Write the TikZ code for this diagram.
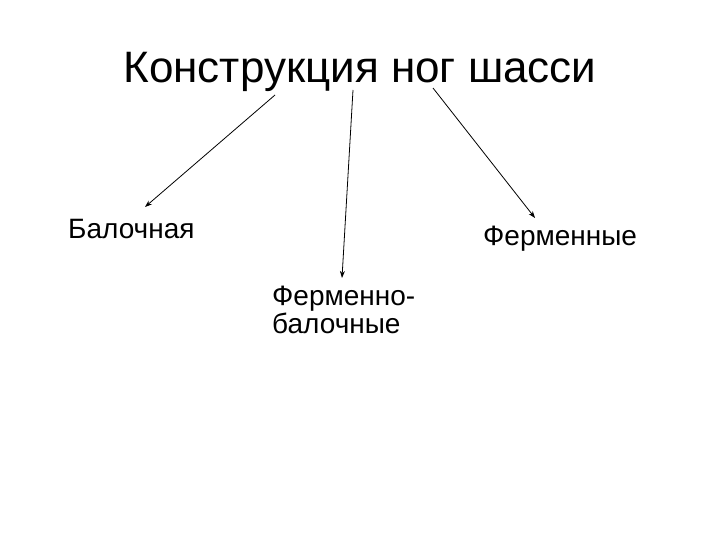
\documentclass[tikz,border=0pt]{standalone}
\usepackage{fontspec}
\setmainfont{Liberation Sans}
\usetikzlibrary{arrows.meta}
\tikzset{
	heading/.style={anchor=base, inner sep=0pt, font=\fontsize{44}{50}\selectfont},
	kind/.style={anchor=base west, inner sep=0pt, align=left, font=\fontsize{28}{28}\selectfont},
	branch/.style={-{Stealth[length=7pt,width=5pt]}, line width=0.8pt}
}
\begin{document}
\begin{tikzpicture}[x=1pt, y=-1pt]
		\useasboundingbox (0,0) rectangle (720,540);

		% Title
		\node[heading] (title) at (360,83) {Конструкция ног шасси};

		% Kinds of gear legs
		\node[kind] (beam) at (68,238) {Балочная};
		\node[kind] (truss) at (483,245) {Ферменные};
		\node[kind] (mixed) at (272,333) {Ферменно-\\балочные};

		% Ends of the arrows
		\coordinate (from1) at (275,95);
		\coordinate (to1) at (145,207);
		\coordinate (from2) at (353,90);
		\coordinate (to2) at (342,278);
		\coordinate (from3) at (433,88);
		\coordinate (to3) at (535,218);

		% Arrows
		\draw[branch] (from1) -- (to1);
		\draw[branch] (from2) -- (to2);
		\draw[branch] (from3) -- (to3);
	\end{tikzpicture}
\end{document}
